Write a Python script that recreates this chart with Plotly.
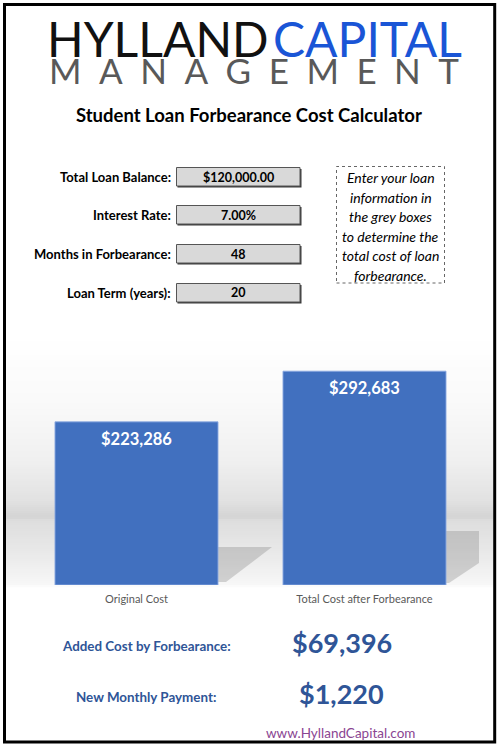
import plotly.graph_objects as go

W, H = 500, 746

# ---- data ----
categories = ["Original Cost", "Total Cost after Forbearance"]
costs = [223286, 292683]
cost_labels = ["$223,286", "$292,683"]

input_labels = ["Total Loan Balance:", "Interest Rate:", "Months in Forbearance:", "Loan Term (years):"]
input_values = ["$120,000.00", "7.00%", "48", "20"]

note_lines = ["Enter your loan", "information in", "the grey boxes", "to determine the", "total cost of loan", "forbearance."]

result_labels = ["Added Cost by Forbearance:", "New Monthly Payment:"]
result_values = ["$69,396", "$1,220"]

title_text = "Student Loan Forbearance Cost Calculator"
url_text = "www.HyllandCapital.com"
logo_word1 = "HYLLAND"
logo_word2 = "CAPITAL"
logo_word3 = "MANAGEMENT"


def X(px):
    return px / W


def Y(py):
    return 1 - py / H


FONT = "Lato"
BLUE_TXT = "#2f5597"

fig = go.Figure()
fig.add_trace(go.Bar(
    x=categories, y=costs,
    marker=dict(color="#4170bf", line=dict(color="rgba(140,170,225,0.9)", width=1)),
    width=0.715, hoverinfo="skip", showlegend=False,
))

shapes = []
annotations = []

# background gradient of chart area
stops = [(335, 255), (400, 250), (460, 240), (500, 226), (517, 212), (521, 222),
         (550, 232), (585, 247), (587, 255)]


def gray_at(py):
    for (y0, g0), (y1, g1) in zip(stops[:-1], stops[1:]):
        if y0 <= py <= y1:
            t = (py - y0) / (y1 - y0) if y1 > y0 else 0
            return g0 + (g1 - g0) * t
    return 255


py = 335
while py < 587:
    g = int(round(gray_at(py + 1)))
    shapes.append(dict(type="rect", xref="paper", yref="paper", layer="below",
                       x0=X(6), x1=X(493), y0=Y(py + 2.2), y1=Y(py),
                       fillcolor=f"rgb({g},{g},{g})", line=dict(width=0)))
    py += 2


def path(pts):
    return "M " + " L ".join(f"{X(a)},{Y(b)}" for a, b in pts) + " Z"


# bar shadows
shapes.append(dict(type="path", xref="paper", yref="paper", layer="below",
                   path=path([(218, 547), (272, 547), (226, 582), (218, 582)]),
                   fillcolor="rgba(110,110,110,0.28)", line=dict(width=0)))
shapes.append(dict(type="path", xref="paper", yref="paper", layer="below",
                   path=path([(446, 531), (479, 531), (479, 563), (449, 583), (446, 583)]),
                   fillcolor="rgba(110,110,110,0.28)", line=dict(width=0)))

# outer border
shapes.append(dict(type="rect", xref="paper", yref="paper",
                   x0=X(4.5), x1=X(494.7), y0=Y(742), y1=Y(4.5),
                   line=dict(color="#000", width=3)))

# logo
annotations.append(dict(text=logo_word1, x=X(270.5), y=Y(38), xanchor="right", yanchor="middle",
                        font=dict(family=FONT, size=48, color="#111111")))
annotations.append(dict(text=logo_word2, x=X(270.5), y=Y(38), xanchor="left", yanchor="middle",
                        font=dict(family=FONT, size=48, color="#1a55d6")))
annotations.append(dict(text="\u2002".join(logo_word3), x=X(254), y=Y(70), xanchor="center",
                        yanchor="middle", font=dict(family=FONT, size=35, color="#595959")))

# title
annotations.append(dict(text="<b>" + title_text + "</b>", x=X(249), y=Y(115),
                        xanchor="center", yanchor="middle",
                        font=dict(family=FONT, size=18.5, color="#000")))

# input rows
row_y = [177, 215, 254, 293]
for lab, val, ry in zip(input_labels, input_values, row_y):
    annotations.append(dict(text="<b>" + lab + "</b>", x=X(173), y=Y(ry), xanchor="right",
                            yanchor="middle", font=dict(family=FONT, size=13, color="#000")))
    shapes.append(dict(type="rect", xref="paper", yref="paper",
                       x0=X(177.5), x1=X(301.5), y0=Y(ry + 10.5), y1=Y(ry - 8),
                       fillcolor="#3a3a3a", line=dict(width=0)))
    shapes.append(dict(type="rect", xref="paper", yref="paper",
                       x0=X(176.5), x1=X(300), y0=Y(ry + 9), y1=Y(ry - 9.5),
                       fillcolor="#d9d9d9", line=dict(color="#555555", width=1)))
    annotations.append(dict(text="<b>" + val + "</b>", x=X(238.5), y=Y(ry), xanchor="center",
                            yanchor="middle", font=dict(family=FONT, size=12.5, color="#000")))

# note box
shapes.append(dict(type="rect", xref="paper", yref="paper",
                   x0=X(336.5), x1=X(444.5), y0=Y(283), y1=Y(166.5),
                   line=dict(color="#666666", width=1, dash="dot")))
note_y = [177, 197, 216.5, 236, 255.5, 275]
for t, ny in zip(note_lines, note_y):
    annotations.append(dict(text="<i>" + t + "</i>", x=X(390.5), y=Y(ny), xanchor="center",
                            yanchor="middle", font=dict(family=FONT, size=14, color="#000")))

# value labels on bars (data coords)
for c, v, lab in zip(categories, costs, cost_labels):
    annotations.append(dict(text="<b>" + lab + "</b>", x=c, y=v, xref="x", yref="y",
                            xanchor="center", yanchor="top", yshift=-5, showarrow=False,
                            font=dict(family=FONT, size=16.5, color="#ffffff")))

# results
res_y = [646, 697]
res_val_y = [642, 693]
for lab, val, ly, vy in zip(result_labels, result_values, res_y, res_val_y):
    annotations.append(dict(text="<b>" + lab + "</b>", x=X(146), y=Y(ly), xanchor="center",
                            yanchor="middle", font=dict(family=FONT, size=13.4, color=BLUE_TXT)))
    annotations.append(dict(text="<b>" + val + "</b>", x=X(341.5), y=Y(vy), xanchor="center",
                            yanchor="middle", font=dict(family=FONT, size=27, color=BLUE_TXT)))

annotations.append(dict(text=url_text, x=X(340.5), y=Y(733), xanchor="center", yanchor="middle",
                        font=dict(family=FONT, size=13.5, color="#8a4592")))

for a in annotations:
    a.setdefault("xref", "paper")
    a.setdefault("yref", "paper")
    a.setdefault("showarrow", False)

# axis geometry: baseline at y=585px, ~1368.8 units per px, plot top at 340px
y_top_val = (585 - 340) * 1368.8

fig.update_layout(
    width=W, height=H, margin=dict(l=0, r=0, t=0, b=0),
    paper_bgcolor="#ffffff", plot_bgcolor="rgba(0,0,0,0)",
    shapes=shapes, annotations=annotations,
    bargap=0.285,
    xaxis=dict(domain=[X(22.5), X(478.5)], showgrid=False, zeroline=False, showline=False,
               ticks="", tickfont=dict(family=FONT, size=11, color="#595959"),
               ticklabelstandoff=6, fixedrange=True),
    yaxis=dict(domain=[Y(585), Y(340)], range=[0, y_top_val], showgrid=False,
               zeroline=False, showline=False, showticklabels=False, ticks="", fixedrange=True),
    showlegend=False,
)

fig.write_html("out.html", config={"displayModeBar": False},
               post_script="document.body.style.margin='0px';document.body.style.padding='0px';")
